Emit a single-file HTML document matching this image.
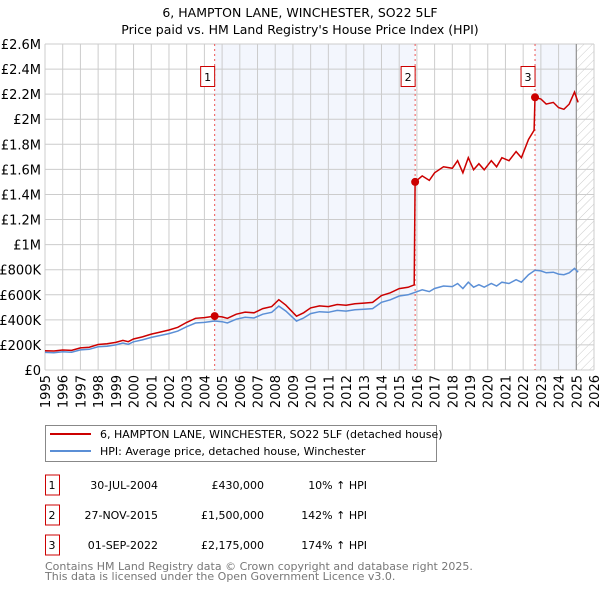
<!DOCTYPE html>
<html><head><meta charset="utf-8"><style>
body{margin:0;background:#fff;width:600px;height:590px;overflow:hidden;font-family:"DejaVu Sans","Liberation Sans",sans-serif;}
svg text{font-family:"DejaVu Sans","Liberation Sans",sans-serif;}
</style></head><body>
<svg id="c" width="600" height="590" xmlns="http://www.w3.org/2000/svg">
<defs><pattern id="hatch" width="6" height="6" patternUnits="userSpaceOnUse" patternTransform="rotate(45)"><line x1="0" y1="0" x2="0" y2="6" stroke="#ccc" stroke-width="1"/></pattern></defs>
<text x="300" y="17" text-anchor="middle" font-size="12.5">6, HAMPTON LANE, WINCHESTER, SO22 5LF</text>
<text x="300" y="34" text-anchor="middle" font-size="12.5">Price paid vs. HM Land Registry's House Price Index (HPI)</text>
<g id="plot"></g>
<g>
<rect x="45.5" y="425.5" width="391" height="36" fill="#fff" stroke="#888"/>
<line x1="50" y1="434" x2="91" y2="434" stroke="#cc0000" stroke-width="2"/>
<text x="100" y="438" font-size="11">6, HAMPTON LANE, WINCHESTER, SO22 5LF (detached house)</text>
<line x1="50" y1="451" x2="91" y2="451" stroke="#5b8fd6" stroke-width="2"/>
<text x="100" y="455" font-size="11">HPI: Average price, detached house, Winchester</text>
</g>
<g id="table" font-size="11"></g>
<text x="45" y="570" font-size="11" fill="#777">Contains HM Land Registry data © Crown copyright and database right 2025.</text>
<text x="45" y="580" font-size="11" fill="#777">This data is licensed under the Open Government Licence v3.0.</text>
</svg>
<script>
const yTicks=[0,200000,400000,600000,800000,1000000,1200000,1400000,1600000,1800000,2000000,2200000,2400000,2600000];
const yTickLabels=["£0","£200K","£400K","£600K","£800K","£1M","£1.2M","£1.4M","£1.6M","£1.8M","£2M","£2.2M","£2.4M","£2.6M"];
const xYears=[1995,1996,1997,1998,1999,2000,2001,2002,2003,2004,2005,2006,2007,2008,2009,2010,2011,2012,2013,2014,2015,2016,2017,2018,2019,2020,2021,2022,2023,2024,2025,2026];
const hpiT=[1995,1995.5,1996,1996.5,1997,1997.5,1998,1998.5,1999,1999.4,1999.7,2000,2000.5,2001,2001.5,2002,2002.5,2003,2003.5,2004,2004.58,2005,2005.3,2005.8,2006.3,2006.8,2007.3,2007.8,2008.2,2008.6,2009.2,2009.6,2010,2010.5,2011,2011.5,2012,2012.5,2013,2013.5,2014,2014.5,2015,2015.5,2015.9,2016.3,2016.7,2017,2017.5,2018,2018.3,2018.6,2018.9,2019.2,2019.5,2019.8,2020.2,2020.5,2020.8,2021.2,2021.6,2021.9,2022.3,2022.67,2023,2023.3,2023.7,2024,2024.3,2024.6,2024.9,2025.1];
const hpiV=[140000,138000,145000,142000,160000,165000,185000,190000,200000,215000,205000,225000,240000,260000,275000,290000,310000,345000,375000,380000,391000,385000,375000,405000,420000,415000,445000,460000,510000,470000,390000,415000,450000,465000,460000,475000,470000,480000,485000,490000,540000,560000,590000,600000,620000,640000,625000,650000,670000,665000,690000,650000,700000,660000,680000,660000,690000,670000,700000,690000,720000,700000,760000,795000,790000,775000,780000,765000,760000,775000,810000,780000];
const saleT=[2004.58,2015.9,2022.67];
const saleV=[430000,1500000,2175000];
const saleLabels=["1","2","3"];
const saleDates=["30-JUL-2004","27-NOV-2015","01-SEP-2022"];
const salePrices=["£430,000","£1,500,000","£2,175,000"];
const saleHpi=["10% ↑ HPI","142% ↑ HPI","174% ↑ HPI"];

const X0=45,X1=594,Y0=370,Y1=44;
const x=t=>X0+(t-1995)/(2026-1995)*(X1-X0);
const y=v=>Y0-v/2600000*(Y0-Y1);
const NS="http://www.w3.org/2000/svg";
const plot=document.getElementById('plot');
function mk(tag,attrs,parent){const e=document.createElementNS(NS,tag);for(const k in attrs)e.setAttribute(k,attrs[k]);(parent||plot).appendChild(e);return e;}
const hpiAt=t=>{for(let i=1;i<hpiT.length;i++){if(t<=hpiT[i]){const f=(t-hpiT[i-1])/(hpiT[i]-hpiT[i-1]);return hpiV[i-1]+f*(hpiV[i]-hpiV[i-1]);}}return hpiV[hpiV.length-1];};
let r=mk('rect',{x:x(saleT[0]),y:Y1,width:x(saleT[1])-x(saleT[0]),height:Y0-Y1,fill:'#f3f6fd'});


r=mk('rect',{x:x(saleT[2]),y:Y1,width:x(2025.0)-x(saleT[2]),height:Y0-Y1,fill:'#f3f6fd'});


r=mk('rect',{x:x(2025.0),y:Y1,width:X1-x(2025.0),height:Y0-Y1,fill:'url(#hatch)'});


yTicks.forEach((v,i)=>{
 const l=mk('line',{x1:X0,x2:X1,y1:y(v),y2:y(v),stroke:'#cccccc'});
 
 
 const t=mk('text',{x:41,y:y(v)+5,'text-anchor':'end','font-size':'13'});
 
 
 t.textContent=yTickLabels[i];
});
xYears.forEach(yr=>{
 const l=mk('line',{x1:x(yr),x2:x(yr),y1:Y1,y2:Y0,stroke:'#cccccc'});
 
 
 const t=mk('text',{x:0,y:0,'text-anchor':'end','font-size':'13',transform:`translate(${x(yr)+5},375) rotate(-90)`});
 
 
 t.textContent=yr;
});
let vl=mk('line',{x1:x(2025.0),x2:x(2025.0),y1:Y1,y2:Y0,stroke:'#888'});


saleT.forEach((t,i)=>{
 const l=mk('line',{x1:x(t),x2:x(t),y1:Y1,y2:Y0,stroke:'#ee5555','stroke-dasharray':'2,3'});
 
 
 const b=mk('rect',{x:x(t)-14,y:66.5,width:14,height:20,fill:'#fff',stroke:'#cc0000'});
 
 
 const tx=mk('text',{x:x(t)-7,y:81,'text-anchor':'middle','font-size':'11'});
 
 
 tx.textContent=saleLabels[i];
});
let d=hpiT.map((t,i)=>(i?'L':'M')+x(t).toFixed(1)+','+y(hpiV[i]).toFixed(1)).join('');
let p=mk('path',{d,fill:'none',stroke:'#5b8fd6','stroke-width':1.5});


let pts=[];
hpiT.forEach((t,i)=>{
 let k=-1;for(let j=0;j<saleT.length;j++)if(t>=saleT[j])k=j;
 const ref=k<0?0:k;
 const ratio=saleV[ref]/hpiAt(saleT[ref]);
 pts.push([t,hpiV[i]*ratio]);
});
saleT.forEach((t,i)=>{if(i>0){pts.push([t-0.05,hpiAt(t-0.05)*saleV[i-1]/hpiAt(saleT[i-1])]);pts.push([t,saleV[i]]);}});
pts.sort((a,b)=>a[0]-b[0]);
d=pts.map((q,i)=>(i?'L':'M')+x(q[0]).toFixed(1)+','+y(q[1]).toFixed(1)).join('');
p=mk('path',{d,fill:'none',stroke:'#cc0000','stroke-width':1.5});


saleT.forEach((t,i)=>{
 const c=mk('circle',{cx:x(t),cy:y(saleV[i]),r:4,fill:'#cc0000'});
 
 
});
const tb=document.getElementById('table');
saleT.forEach((t,i)=>{
 const yy=485+i*30;
 const b=mk('rect',{x:45.5,y:yy-10,width:14,height:20,fill:'#fff',stroke:'#cc0000'},tb);
 
 
 const cells=[[52,'middle',saleLabels[i],'table-row-number'],[158,'end',saleDates[i],'table-sale-date'],[264,'end',salePrices[i],'table-sale-price'],[367,'end',saleHpi[i],'table-hpi-change']];
 cells.forEach(c=>{
  const tx=mk('text',{x:c[0],y:yy+4,'text-anchor':c[1]},tb);
  
  
  tx.textContent=c[2];
 });
});
</script>
</body></html>
